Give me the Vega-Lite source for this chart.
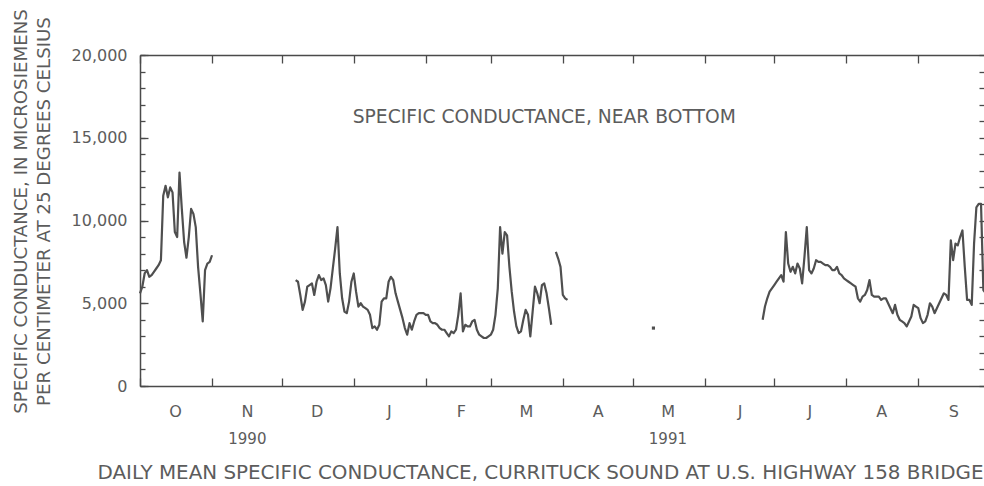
{
"$schema": "https://vega.github.io/schema/vega-lite/v6.json",
"width": 844, "height": 331,
"autosize": "none",
"padding": {"left": 140, "top": 55, "right": 0, "bottom": 100},
"background": "#ffffff",
"config": {
 "font": "DejaVu Sans",
 "view": {"stroke": null},
 "axis": {"grid": false, "domainColor": "#4a4a4a", "tickColor": "#4a4a4a", "labelColor": "#5c5c5c", "titleColor": "#5c5c5c", "labelFont": "DejaVu Sans", "titleFont": "DejaVu Sans", "titleFontWeight": "normal", "domainWidth": 1.5, "tickWidth": 1.3}
},
"datasets": {
 "cond": [
  {"date":"1990-10-01","value":5600,"seg":1},{"date":"1990-10-02","value":6000,"seg":1},{"date":"1990-10-03","value":6800,"seg":1},{"date":"1990-10-04","value":7000,"seg":1},{"date":"1990-10-05","value":6600,"seg":1},{"date":"1990-10-06","value":6700,"seg":1},{"date":"1990-10-07","value":6900,"seg":1},{"date":"1990-10-08","value":7100,"seg":1},{"date":"1990-10-09","value":7300,"seg":1},{"date":"1990-10-10","value":7600,"seg":1},{"date":"1990-10-11","value":11500,"seg":1},{"date":"1990-10-12","value":12100,"seg":1},{"date":"1990-10-13","value":11400,"seg":1},{"date":"1990-10-14","value":12000,"seg":1},{"date":"1990-10-15","value":11700,"seg":1},{"date":"1990-10-16","value":9300,"seg":1},{"date":"1990-10-17","value":9000,"seg":1},{"date":"1990-10-18","value":12900,"seg":1},{"date":"1990-10-19","value":10700,"seg":1},{"date":"1990-10-20","value":8700,"seg":1},{"date":"1990-10-21","value":7750,"seg":1},{"date":"1990-10-22","value":9000,"seg":1},{"date":"1990-10-23","value":10700,"seg":1},{"date":"1990-10-24","value":10400,"seg":1},{"date":"1990-10-25","value":9600,"seg":1},{"date":"1990-10-26","value":7200,"seg":1},{"date":"1990-10-27","value":5600,"seg":1},{"date":"1990-10-28","value":3900,"seg":1},{"date":"1990-10-29","value":7000,"seg":1},{"date":"1990-10-30","value":7400,"seg":1},{"date":"1990-10-31","value":7500,"seg":1},{"date":"1990-11-01","value":7900,"seg":1},
  {"date":"1990-12-07","value":6400,"seg":2},{"date":"1990-12-08","value":6300,"seg":2},{"date":"1990-12-09","value":5500,"seg":2},{"date":"1990-12-10","value":4600,"seg":2},{"date":"1990-12-11","value":5100,"seg":2},{"date":"1990-12-12","value":6000,"seg":2},{"date":"1990-12-13","value":6100,"seg":2},{"date":"1990-12-14","value":6200,"seg":2},{"date":"1990-12-15","value":5500,"seg":2},{"date":"1990-12-16","value":6300,"seg":2},{"date":"1990-12-17","value":6700,"seg":2},{"date":"1990-12-18","value":6400,"seg":2},{"date":"1990-12-19","value":6500,"seg":2},{"date":"1990-12-20","value":6100,"seg":2},{"date":"1990-12-21","value":5100,"seg":2},{"date":"1990-12-22","value":5900,"seg":2},{"date":"1990-12-23","value":7100,"seg":2},{"date":"1990-12-24","value":8300,"seg":2},{"date":"1990-12-25","value":9600,"seg":2},{"date":"1990-12-26","value":6800,"seg":2},{"date":"1990-12-27","value":5300,"seg":2},{"date":"1990-12-28","value":4500,"seg":2},{"date":"1990-12-29","value":4400,"seg":2},{"date":"1990-12-30","value":5100,"seg":2},{"date":"1990-12-31","value":6300,"seg":2},
  {"date":"1991-01-01","value":6800,"seg":2},{"date":"1991-01-02","value":5700,"seg":2},{"date":"1991-01-03","value":4800,"seg":2},{"date":"1991-01-04","value":5000,"seg":2},{"date":"1991-01-05","value":4800,"seg":2},{"date":"1991-01-06","value":4700,"seg":2},{"date":"1991-01-07","value":4600,"seg":2},{"date":"1991-01-08","value":4300,"seg":2},{"date":"1991-01-09","value":3500,"seg":2},{"date":"1991-01-10","value":3600,"seg":2},{"date":"1991-01-11","value":3400,"seg":2},{"date":"1991-01-12","value":3700,"seg":2},{"date":"1991-01-13","value":5100,"seg":2},{"date":"1991-01-14","value":5300,"seg":2},{"date":"1991-01-15","value":5300,"seg":2},{"date":"1991-01-16","value":6300,"seg":2},{"date":"1991-01-17","value":6600,"seg":2},{"date":"1991-01-18","value":6400,"seg":2},{"date":"1991-01-19","value":5600,"seg":2},{"date":"1991-01-20","value":5100,"seg":2},{"date":"1991-01-21","value":4600,"seg":2},{"date":"1991-01-22","value":4100,"seg":2},{"date":"1991-01-23","value":3500,"seg":2},{"date":"1991-01-24","value":3100,"seg":2},{"date":"1991-01-25","value":3800,"seg":2},{"date":"1991-01-26","value":3400,"seg":2},{"date":"1991-01-27","value":3900,"seg":2},{"date":"1991-01-28","value":4300,"seg":2},{"date":"1991-01-29","value":4400,"seg":2},{"date":"1991-01-30","value":4400,"seg":2},{"date":"1991-01-31","value":4400,"seg":2},
  {"date":"1991-02-01","value":4300,"seg":2},{"date":"1991-02-02","value":4300,"seg":2},{"date":"1991-02-03","value":3900,"seg":2},{"date":"1991-02-04","value":3800,"seg":2},{"date":"1991-02-05","value":3800,"seg":2},{"date":"1991-02-06","value":3700,"seg":2},{"date":"1991-02-07","value":3500,"seg":2},{"date":"1991-02-08","value":3400,"seg":2},{"date":"1991-02-09","value":3400,"seg":2},{"date":"1991-02-10","value":3200,"seg":2},{"date":"1991-02-11","value":3000,"seg":2},{"date":"1991-02-12","value":3300,"seg":2},{"date":"1991-02-13","value":3200,"seg":2},{"date":"1991-02-14","value":3400,"seg":2},{"date":"1991-02-15","value":4300,"seg":2},{"date":"1991-02-16","value":5600,"seg":2},{"date":"1991-02-17","value":3300,"seg":2},{"date":"1991-02-18","value":3700,"seg":2},{"date":"1991-02-19","value":3600,"seg":2},{"date":"1991-02-20","value":3600,"seg":2},{"date":"1991-02-21","value":3900,"seg":2},{"date":"1991-02-22","value":4000,"seg":2},{"date":"1991-02-23","value":3400,"seg":2},{"date":"1991-02-24","value":3100,"seg":2},{"date":"1991-02-25","value":3000,"seg":2},{"date":"1991-02-26","value":2900,"seg":2},{"date":"1991-02-27","value":2900,"seg":2},{"date":"1991-02-28","value":3000,"seg":2},
  {"date":"1991-03-01","value":3100,"seg":2},{"date":"1991-03-02","value":3400,"seg":2},{"date":"1991-03-03","value":4300,"seg":2},{"date":"1991-03-04","value":5900,"seg":2},{"date":"1991-03-05","value":9600,"seg":2},{"date":"1991-03-06","value":8000,"seg":2},{"date":"1991-03-07","value":9300,"seg":2},{"date":"1991-03-08","value":9100,"seg":2},{"date":"1991-03-09","value":7200,"seg":2},{"date":"1991-03-10","value":5700,"seg":2},{"date":"1991-03-11","value":4500,"seg":2},{"date":"1991-03-12","value":3600,"seg":2},{"date":"1991-03-13","value":3200,"seg":2},{"date":"1991-03-14","value":3300,"seg":2},{"date":"1991-03-15","value":4000,"seg":2},{"date":"1991-03-16","value":4600,"seg":2},{"date":"1991-03-17","value":4300,"seg":2},{"date":"1991-03-18","value":3000,"seg":2},{"date":"1991-03-19","value":4500,"seg":2},{"date":"1991-03-20","value":6000,"seg":2},{"date":"1991-03-21","value":5600,"seg":2},{"date":"1991-03-22","value":5000,"seg":2},{"date":"1991-03-23","value":6100,"seg":2},{"date":"1991-03-24","value":6200,"seg":2},{"date":"1991-03-25","value":5600,"seg":2},{"date":"1991-03-26","value":4700,"seg":2},{"date":"1991-03-27","value":3700,"seg":2},
  {"date":"1991-03-29","value":8100,"seg":3},{"date":"1991-03-30","value":7700,"seg":3},{"date":"1991-03-31","value":7200,"seg":3},{"date":"1991-04-01","value":5500,"seg":3},{"date":"1991-04-02","value":5300,"seg":3},{"date":"1991-04-03","value":5200,"seg":3},
  {"date":"1991-06-26","value":4000,"seg":4},{"date":"1991-06-27","value":4800,"seg":4},{"date":"1991-06-28","value":5300,"seg":4},{"date":"1991-06-29","value":5700,"seg":4},{"date":"1991-06-30","value":5900,"seg":4},
  {"date":"1991-07-01","value":6100,"seg":4},{"date":"1991-07-02","value":6300,"seg":4},{"date":"1991-07-03","value":6500,"seg":4},{"date":"1991-07-04","value":6700,"seg":4},{"date":"1991-07-05","value":6300,"seg":4},{"date":"1991-07-06","value":9300,"seg":4},{"date":"1991-07-07","value":7400,"seg":4},{"date":"1991-07-08","value":6900,"seg":4},{"date":"1991-07-09","value":7200,"seg":4},{"date":"1991-07-10","value":6800,"seg":4},{"date":"1991-07-11","value":7400,"seg":4},{"date":"1991-07-12","value":7100,"seg":4},{"date":"1991-07-13","value":6200,"seg":4},{"date":"1991-07-14","value":7800,"seg":4},{"date":"1991-07-15","value":9600,"seg":4},{"date":"1991-07-16","value":7000,"seg":4},{"date":"1991-07-17","value":6800,"seg":4},{"date":"1991-07-18","value":7100,"seg":4},{"date":"1991-07-19","value":7600,"seg":4},{"date":"1991-07-20","value":7500,"seg":4},{"date":"1991-07-21","value":7500,"seg":4},{"date":"1991-07-22","value":7400,"seg":4},{"date":"1991-07-23","value":7300,"seg":4},{"date":"1991-07-24","value":7300,"seg":4},{"date":"1991-07-25","value":7200,"seg":4},{"date":"1991-07-26","value":7000,"seg":4},{"date":"1991-07-27","value":7000,"seg":4},{"date":"1991-07-28","value":7200,"seg":4},{"date":"1991-07-29","value":6800,"seg":4},{"date":"1991-07-30","value":6700,"seg":4},{"date":"1991-07-31","value":6500,"seg":4},
  {"date":"1991-08-01","value":6400,"seg":4},{"date":"1991-08-02","value":6300,"seg":4},{"date":"1991-08-03","value":6200,"seg":4},{"date":"1991-08-04","value":6100,"seg":4},{"date":"1991-08-05","value":6000,"seg":4},{"date":"1991-08-06","value":5300,"seg":4},{"date":"1991-08-07","value":5100,"seg":4},{"date":"1991-08-08","value":5400,"seg":4},{"date":"1991-08-09","value":5500,"seg":4},{"date":"1991-08-10","value":5800,"seg":4},{"date":"1991-08-11","value":6400,"seg":4},{"date":"1991-08-12","value":5500,"seg":4},{"date":"1991-08-13","value":5400,"seg":4},{"date":"1991-08-14","value":5400,"seg":4},{"date":"1991-08-15","value":5400,"seg":4},{"date":"1991-08-16","value":5200,"seg":4},{"date":"1991-08-17","value":5300,"seg":4},{"date":"1991-08-18","value":5300,"seg":4},{"date":"1991-08-19","value":5000,"seg":4},{"date":"1991-08-20","value":4700,"seg":4},{"date":"1991-08-21","value":4400,"seg":4},{"date":"1991-08-22","value":4900,"seg":4},{"date":"1991-08-23","value":4300,"seg":4},{"date":"1991-08-24","value":4000,"seg":4},{"date":"1991-08-25","value":3900,"seg":4},{"date":"1991-08-26","value":3800,"seg":4},{"date":"1991-08-27","value":3600,"seg":4},{"date":"1991-08-28","value":3900,"seg":4},{"date":"1991-08-29","value":4200,"seg":4},{"date":"1991-08-30","value":4900,"seg":4},{"date":"1991-08-31","value":4800,"seg":4},
  {"date":"1991-09-01","value":4700,"seg":4},{"date":"1991-09-02","value":4100,"seg":4},{"date":"1991-09-03","value":3800,"seg":4},{"date":"1991-09-04","value":3900,"seg":4},{"date":"1991-09-05","value":4300,"seg":4},{"date":"1991-09-06","value":5000,"seg":4},{"date":"1991-09-07","value":4800,"seg":4},{"date":"1991-09-08","value":4400,"seg":4},{"date":"1991-09-09","value":4700,"seg":4},{"date":"1991-09-10","value":5000,"seg":4},{"date":"1991-09-11","value":5300,"seg":4},{"date":"1991-09-12","value":5600,"seg":4},{"date":"1991-09-13","value":5500,"seg":4},{"date":"1991-09-14","value":5200,"seg":4},{"date":"1991-09-15","value":8800,"seg":4},{"date":"1991-09-16","value":7600,"seg":4},{"date":"1991-09-17","value":8600,"seg":4},{"date":"1991-09-18","value":8500,"seg":4},{"date":"1991-09-19","value":9000,"seg":4},{"date":"1991-09-20","value":9400,"seg":4},{"date":"1991-09-21","value":7200,"seg":4},{"date":"1991-09-22","value":5200,"seg":4},{"date":"1991-09-23","value":5200,"seg":4},{"date":"1991-09-24","value":4900,"seg":4},{"date":"1991-09-25","value":8600,"seg":4},{"date":"1991-09-26","value":10800,"seg":4},{"date":"1991-09-27","value":11000,"seg":4},{"date":"1991-09-28","value":11000,"seg":4},{"date":"1991-09-29","value":5800,"seg":4},{"date":"1991-09-30","value":5600,"seg":4}
 ],
 "single": [{"date":"1991-05-10","value":3500}],
 "note": [{"date":"1991-03-24","value":16250,"label":"SPECIFIC CONDUCTANCE, NEAR BOTTOM"}]
},
"layer": [
 {
  "data": {"name": "cond"},
  "mark": {"type": "line", "color": "#4f4f4f", "strokeWidth": 2.2, "strokeJoin": "round"},
  "encoding": {
   "x": {"field": "date", "type": "temporal",
    "scale": {"type": "utc", "domain": [{"year":1990,"month":10,"date":1,"utc":true},{"year":1991,"month":10,"date":1,"utc":true}], "range": [0, 848]},
    "axis": {"orient": "bottom", "title": null,
     "values": [{"year":1990,"month":10,"date":1,"utc":true},{"year":1990,"month":11,"date":1,"utc":true},{"year":1990,"month":12,"date":1,"utc":true},{"year":1991,"month":1,"date":1,"utc":true},{"year":1991,"month":2,"date":1,"utc":true},{"year":1991,"month":3,"date":1,"utc":true},{"year":1991,"month":4,"date":1,"utc":true},{"year":1991,"month":5,"date":1,"utc":true},{"year":1991,"month":6,"date":1,"utc":true},{"year":1991,"month":7,"date":1,"utc":true},{"year":1991,"month":8,"date":1,"utc":true},{"year":1991,"month":9,"date":1,"utc":true},{"year":1991,"month":10,"date":1,"utc":true}],
     "tickSize": -8, "labelPadding": 33, "labelOffset": 35, "labelBaseline": "middle", "labelFontSize": 16, "labelFlush": false, "labelOverlap": false,
     "labelExpr": "utcyear(datum.value) == 1991 && utcmonth(datum.value) == 9 ? '' : substring(utcFormat(datum.value, '%b'), 0, 1)"}},
   "y": {"field": "value", "type": "quantitative",
    "scale": {"domain": [0, 20000], "nice": false},
    "axis": {"orient": "left", "values": [0, 5000, 10000, 15000, 20000], "format": ",.0f", "tickSize": -8, "labelPadding": 21, "labelFontSize": 16, "labelFlush": false,
     "title": ["SPECIFIC CONDUCTANCE, IN MICROSIEMENS", "PER CENTIMETER AT 25 DEGREES CELSIUS"],
     "titleFontSize": 18.2, "titleLineHeight": 23, "titleAngle": -90, "titleX": -128, "titleY": 156, "titleBaseline": "top", "titleAlign": "center"}},
   "detail": {"field": "seg", "type": "nominal"}
  }
 },
 {
  "data": {"name": "note"},
  "mark": {"type": "text", "fontSize": 18.7, "color": "#5c5c5c", "align": "center", "baseline": "middle", "font": "DejaVu Sans"},
  "encoding": {
   "x": {"field": "date", "type": "temporal",
    "scale": {"type": "utc", "domain": [{"year":1990,"month":10,"date":1,"utc":true},{"year":1991,"month":10,"date":1,"utc":true}], "range": [0, 848]},
    "axis": {"orient": "top", "title": null, "labels": false,
     "values": [{"year":1990,"month":10,"date":1,"utc":true},{"year":1990,"month":11,"date":1,"utc":true},{"year":1990,"month":12,"date":1,"utc":true},{"year":1991,"month":1,"date":1,"utc":true},{"year":1991,"month":2,"date":1,"utc":true},{"year":1991,"month":3,"date":1,"utc":true},{"year":1991,"month":4,"date":1,"utc":true},{"year":1991,"month":5,"date":1,"utc":true},{"year":1991,"month":6,"date":1,"utc":true},{"year":1991,"month":7,"date":1,"utc":true},{"year":1991,"month":8,"date":1,"utc":true},{"year":1991,"month":9,"date":1,"utc":true},{"year":1991,"month":10,"date":1,"utc":true}],
     "tickSize": -8}},
   "y": {"field": "value", "type": "quantitative",
    "scale": {"domain": [0, 20000], "nice": false},
    "axis": {"orient": "right", "title": null, "labels": false, "offset": 4, "tickSize": -9,
     "values": [0,1000,2000,3000,4000,5000,6000,7000,8000,9000,10000,11000,12000,13000,14000,15000,16000,17000,18000,19000,20000]}},
   "text": {"field": "label"}
  }
 },
 {
  "data": {"name": "single"},
  "mark": {"type": "point", "shape": "square", "filled": true, "size": 10, "color": "#4f4f4f", "opacity": 1},
  "encoding": {
   "x": {"field": "date", "type": "temporal",
    "scale": {"type": "utc", "domain": [{"year":1990,"month":10,"date":1,"utc":true},{"year":1991,"month":10,"date":1,"utc":true}], "range": [0, 848]},
    "axis": {"orient": "bottom", "ticks": false, "domain": false, "labelPadding": 52, "labelBaseline": "middle", "labelFontSize": 15, "labelFlush": false,
     "values": [{"year":1990,"month":11,"date":16,"utc":true},{"year":1991,"month":5,"date":16,"utc":true}],
     "labelExpr": "utcFormat(datum.value, '%Y')",
     "title": "DAILY MEAN SPECIFIC CONDUCTANCE, CURRITUCK SOUND AT U.S. HIGHWAY 158 BRIDGE",
     "titleFontSize": 19.9, "titleX": 400, "titleY": 86, "titleBaseline": "middle", "titleAlign": "center"}},
   "y": {"field": "value", "type": "quantitative",
    "scale": {"domain": [0, 20000], "nice": false},
    "axis": {"orient": "left", "title": null, "labels": false, "domain": false, "tickSize": -5,
     "values": [0,1000,2000,3000,4000,5000,6000,7000,8000,9000,10000,11000,12000,13000,14000,15000,16000,17000,18000,19000,20000]}}
  }
 }
],
"resolve": {"axis": {"x": "independent", "y": "independent"}}
}
